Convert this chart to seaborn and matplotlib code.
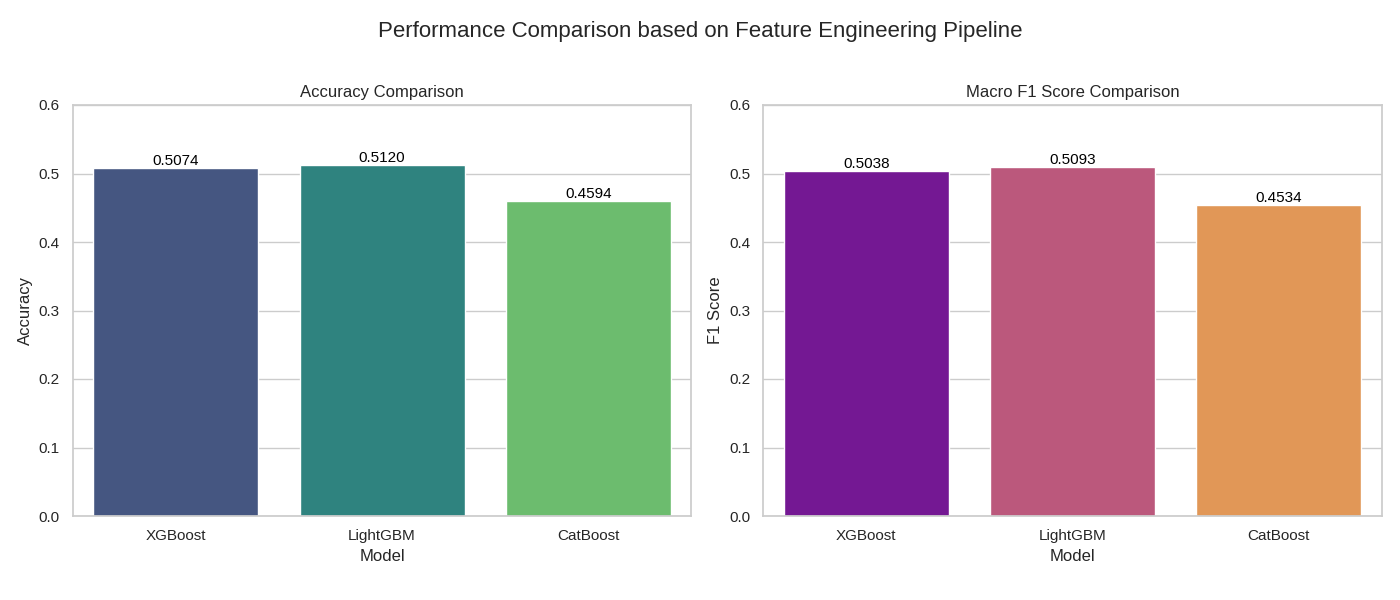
import matplotlib
matplotlib.use("Agg")
import matplotlib.pyplot as plt
import seaborn as sns
import pandas as pd

models = ["XGBoost", "LightGBM", "CatBoost"]
accuracy = [0.5074, 0.5120, 0.4594]
f1_macro = [0.5038, 0.5093, 0.4534]


def main():
    sns.set_theme(style="whitegrid")
    plt.rcParams["font.family"] = ["Liberation Sans", "DejaVu Sans"]
    df = pd.DataFrame({"Model": models, "Accuracy": accuracy, "F1 Score": f1_macro})

    fig, axes = plt.subplots(1, 2, figsize=(14, 6))
    fig.suptitle("Performance Comparison based on Feature Engineering Pipeline",
                 fontsize=16, y=0.965)

    panels = [
        ("Accuracy", "viridis", "Accuracy Comparison"),
        ("F1 Score", "plasma", "Macro F1 Score Comparison"),
    ]
    for ax, (col, pal, title) in zip(axes, panels):
        sns.barplot(data=df, x="Model", y=col, hue="Model", palette=pal,
                    legend=False, ax=ax)
        ax.set_title(title)
        ax.set_ylim(0, 0.6)
        for c in ax.containers:
            ax.bar_label(c, fmt="%.4f", color="black", fontsize=11)

    fig.subplots_adjust(left=0.052, right=0.987, top=0.825, bottom=0.14,
                        wspace=0.1164)
    fig.savefig("out.png", dpi=100)


if __name__ == "__main__":
    main()
